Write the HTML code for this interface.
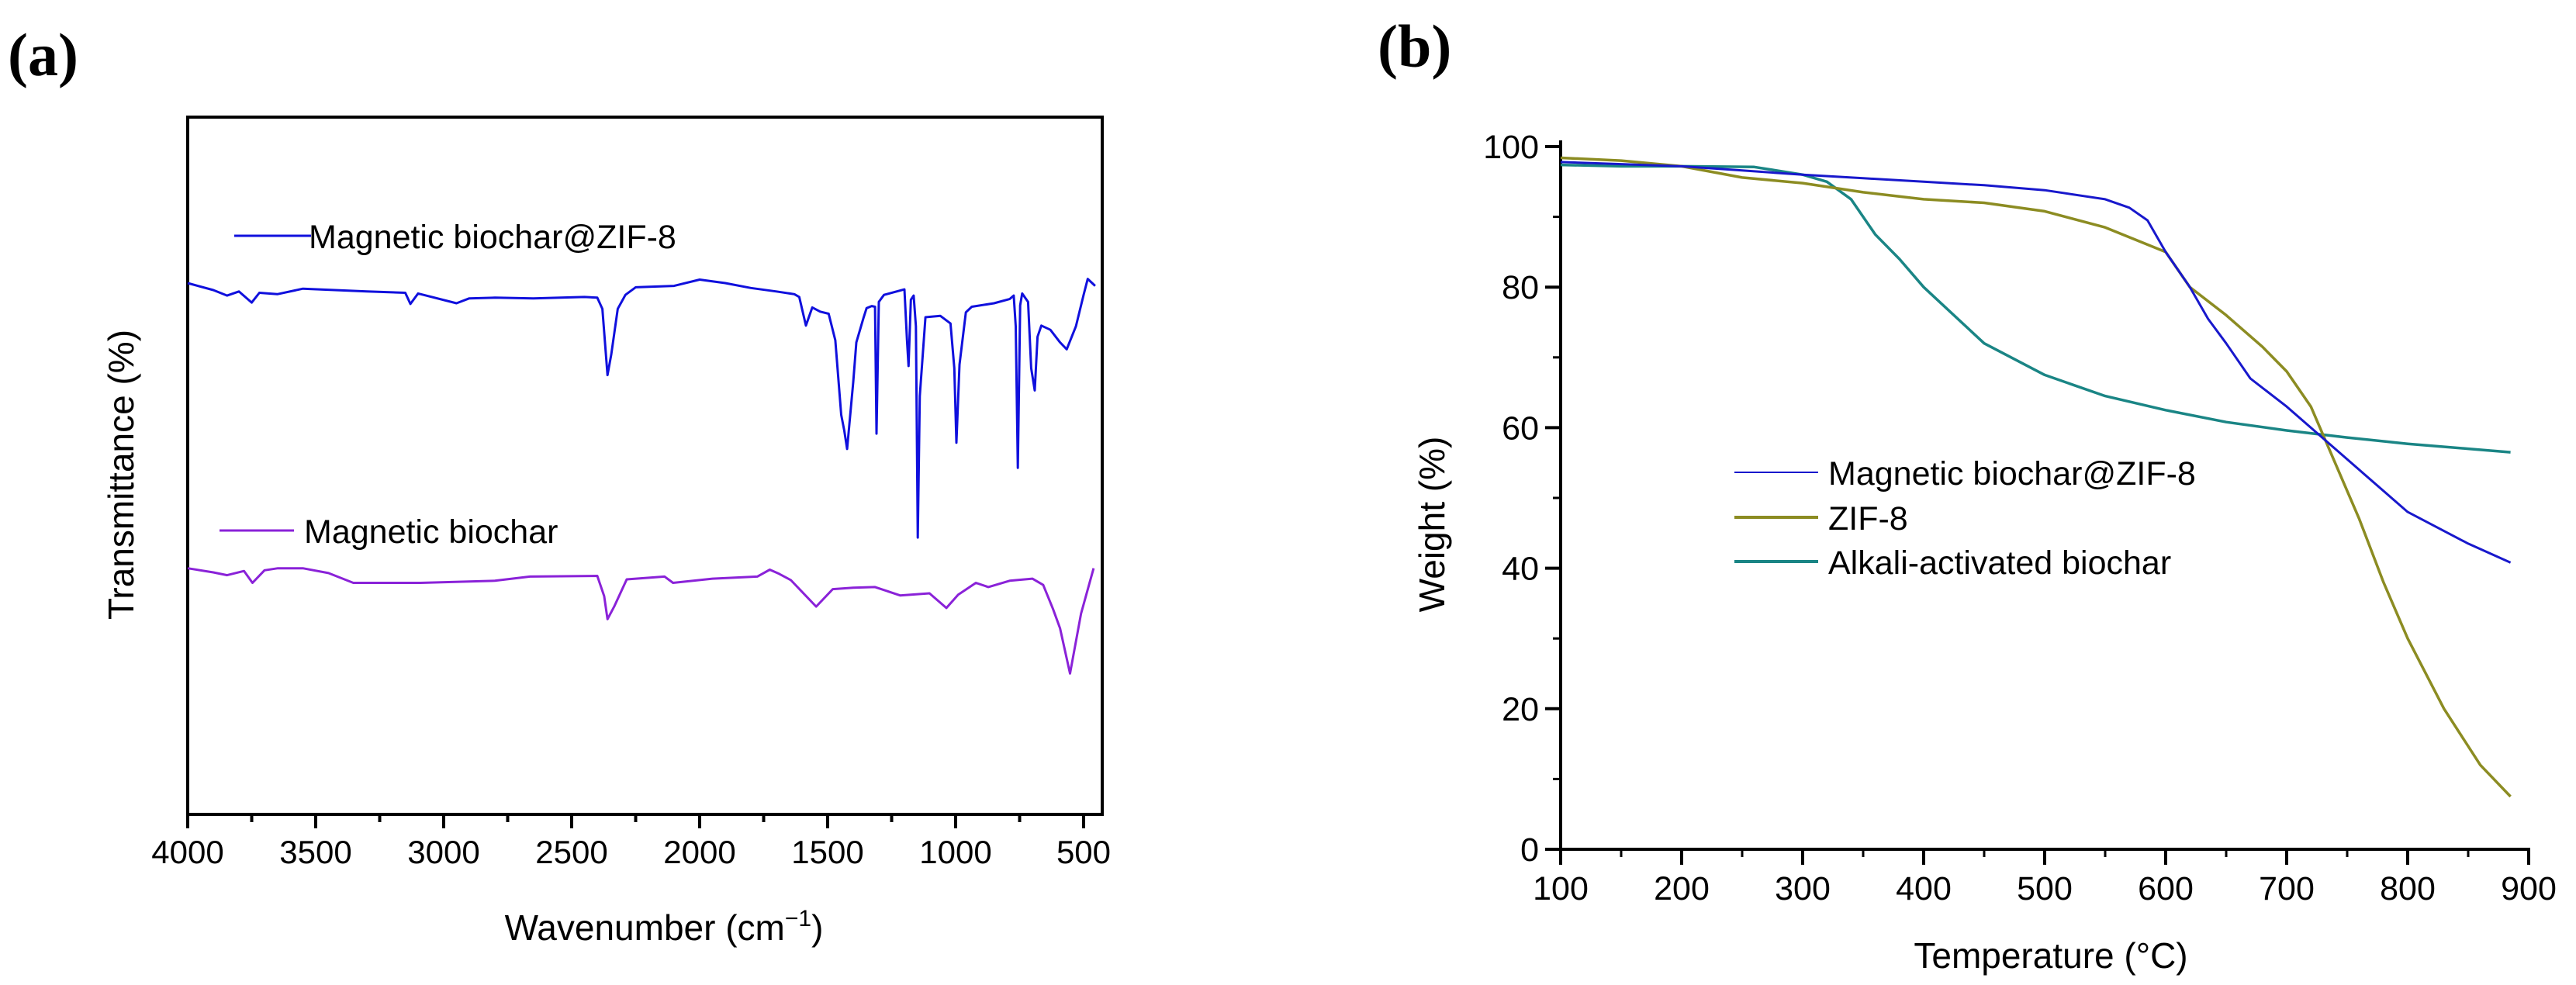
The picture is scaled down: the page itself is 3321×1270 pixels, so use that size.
<!DOCTYPE html>
<html><head><meta charset="utf-8"><style>
html,body{margin:0;padding:0;background:#fff;}
svg{display:block;font-family:"Liberation Sans",Arial,sans-serif;}
</style></head><body>
<svg id="fig" width="3321" height="1270" viewBox="0 0 3321 1270" xmlns="http://www.w3.org/2000/svg">
<g id="pa"></g>
<g id="pb"></g>
</svg>
<script>
// ---- Panel (a) FTIR data ----
const irTicks = [4000,3500,3000,2500,2000,1500,1000,500];
const blueWn = [4000,3900,3846,3800,3750,3720,3650,3550,3300,3150,3130,3100,2950,2900,2800,2650,2450,2400,2380,2360,2345,2320,2290,2250,2100,2000,1900,1800,1700,1630,1611,1585,1560,1529,1496,1470,1447,1435,1424,1400,1388,1360,1348,1328,1315,1309,1300,1280,1200,1190,1184,1175,1164,1155,1148,1140,1118,1060,1020,1005,997,985,960,937,850,789,773,765,757,748,740,717,705,691,680,665,630,592,566,530,500,484,455];
const blueT = [76.2,75.2,74.4,75,73.4,74.8,74.6,75.4,75,74.8,73.2,74.7,73.3,74,74.1,74,74.2,74.1,72.5,63,66,72.5,74.5,75.6,75.8,76.7,76.2,75.5,75,74.6,74.2,70.1,72.7,72.1,71.8,68,57.3,55,52.4,62,67.7,71.2,72.6,72.9,72.8,54.6,73.5,74.5,75.3,68,64.3,73.8,74.4,70,39.7,60,71.3,71.5,70.4,64,53.3,64.5,72,72.8,73.3,73.9,74.4,70,49.7,73,74.7,73.5,64,60.8,68.5,70.1,69.5,67.7,66.7,70,74.5,76.8,75.8];
const purpWn = [4000,3900,3846,3780,3747,3700,3648,3550,3450,3353,3090,2800,2663,2400,2373,2360,2334,2285,2137,2104,1950,1775,1726,1690,1644,1545,1480,1400,1315,1217,1102,1036,990,921,872,789,700,658,620,592,553,510,461];
const purpT = [35.3,34.7,34.3,34.9,33.2,35,35.3,35.3,34.6,33.2,33.2,33.5,34.1,34.2,31.3,28,29.8,33.7,34.1,33.2,33.8,34.1,35.1,34.5,33.6,29.8,32.3,32.5,32.6,31.4,31.7,29.6,31.5,33.2,32.6,33.5,33.8,32.9,29.5,26.7,20.2,28.8,35.3];
// ---- Panel (b) TGA data ----
const tgaXTicks = [100,200,300,400,500,600,700,800,900];
const tgaYTicks = [0,20,40,60,80,100];
const mbzT = [100,150,200,250,300,350,400,450,500,550,570,585,600,610,620,635,650,670,700,730,760,800,850,885];
const mbzW = [97.8,97.5,97.2,96.6,96,95.5,95,94.5,93.8,92.5,91.3,89.5,85,82.5,80,75.5,72,67,63,58.5,54,48,43.5,40.8];
const zifT = [100,150,200,250,300,350,400,450,500,550,600,620,650,680,700,720,735,760,780,800,830,860,885];
const zifW = [98.4,98,97.2,95.6,94.8,93.5,92.5,92,90.8,88.5,85,80,76,71.5,68,63,57,47,38,30,20,12,7.5];
const alkT = [100,150,200,260,300,320,340,360,380,400,450,500,550,600,650,700,750,800,850,885];
const alkW = [97.4,97.2,97.2,97.1,96,95,92.5,87.5,84,80,72,67.5,64.5,62.5,60.8,59.6,58.6,57.7,57,56.5];

const NS='http://www.w3.org/2000/svg';
function mk(parent,tag,attrs,text){const e=document.createElementNS(NS,tag);for(const k in attrs)e.setAttribute(k,attrs[k]);if(text!==undefined)e.textContent=text;parent.appendChild(e);return e;}

// ---------- Panel A ----------
const pa=document.getElementById('pa');
const aL=242,aR=1421,aT=151,aB=1050;
const ax=wn=>aL+(4000-wn)*0.33;
const ay=t=>aB-t*8.99;
let e;
e=mk(pa,'text',{x:10,y:97,'font-family':'"Liberation Serif",serif','font-weight':'bold','font-size':78});e.textContent='(a)';


e=mk(pa,'rect',{x:aL,y:aT,width:aR-aL,height:aB-aT,fill:'none',stroke:'#000','stroke-width':4});


for(let wn=4000;wn>=500;wn-=250){
  const major=wn%500===0;
  e=mk(pa,'line',{x1:ax(wn),x2:ax(wn),y1:aB,y2:aB+(major?18:10),stroke:'#000','stroke-width':4});
  
  
}
irTicks.forEach(v=>{
  e=mk(pa,'text',{x:ax(v),y:1113,'font-size':42,'text-anchor':'middle'},String(v));
  
  
});
e=mk(pa,'text',{x:856,y:1212,'font-size':46,'text-anchor':'middle'});
e.innerHTML='Wavenumber (cm<tspan dy="-18" font-size="30">−1</tspan><tspan dy="18">)</tspan>';


e=mk(pa,'text',{x:0,y:0,'font-size':46,'text-anchor':'middle',transform:'translate(172,612) rotate(-90)'},'Transmittance (%)');


function pathA(xs,ys){return xs.map((x,i)=>(i?'L':'M')+ax(x).toFixed(1)+','+ay(ys[i]).toFixed(1)).join(' ');}
e=mk(pa,'path',{d:pathA(blueWn,blueT),fill:'none',stroke:'#1010dd','stroke-width':3,'stroke-linejoin':'round'});


e=mk(pa,'path',{d:pathA(purpWn,purpT),fill:'none',stroke:'#8a22d8','stroke-width':3,'stroke-linejoin':'round'});


e=mk(pa,'line',{x1:302,x2:401,y1:304,y2:304,stroke:'#1010dd','stroke-width':3});


e=mk(pa,'text',{x:398,y:320,'font-size':43},'Magnetic biochar@ZIF-8');


e=mk(pa,'line',{x1:283,x2:379,y1:684,y2:684,stroke:'#8a22d8','stroke-width':3});


e=mk(pa,'text',{x:392,y:700,'font-size':43},'Magnetic biochar');



// ---------- Panel B ----------
const pb=document.getElementById('pb');
const bL=2012,bB=1095;
const bx=t=>bL+(t-100)*1.56;
const by=w=>bB-w*9.06;
e=mk(pb,'text',{x:1776,y:86,'font-family':'"Liberation Serif",serif','font-weight':'bold','font-size':78},'(b)');


e=mk(pb,'line',{x1:bL,x2:bL,y1:bB+18,y2:181,stroke:'#000','stroke-width':4});


e=mk(pb,'line',{x1:bL-18,x2:bx(900)+2,y1:bB,y2:bB,stroke:'#000','stroke-width':4});


for(let t=100;t<=900;t+=50){
  const major=t%100===0;
  e=mk(pb,'line',{x1:bx(t),x2:bx(t),y1:bB,y2:bB+(major?20:10),stroke:'#000','stroke-width':major?4:3});
  
  
}
for(let w=0;w<=100;w+=10){
  const major=w%20===0;
  e=mk(pb,'line',{x1:bL,x2:bL-(major?20:10),y1:by(w),y2:by(w),stroke:'#000','stroke-width':major?4:3});
  
  
}
tgaXTicks.forEach(v=>{
  e=mk(pb,'text',{x:bx(v),y:1160,'font-size':43,'text-anchor':'middle'},String(v));
  
  
});
tgaYTicks.forEach(v=>{
  e=mk(pb,'text',{x:bL-28,y:by(v)+15,'font-size':43,'text-anchor':'end'},String(v));
  
  
});
e=mk(pb,'text',{x:2644,y:1248,'font-size':46,'text-anchor':'middle'},'Temperature (°C)');


e=mk(pb,'text',{x:0,y:0,'font-size':46,'text-anchor':'middle',transform:'translate(1862,676) rotate(-90)'},'Weight (%)');


function pathB(xs,ys){return xs.map((x,i)=>(i?'L':'M')+bx(x).toFixed(1)+','+by(ys[i]).toFixed(1)).join(' ');}
e=mk(pb,'path',{d:pathB(alkT,alkW),fill:'none',stroke:'#1a8585','stroke-width':3.5,'stroke-linejoin':'round'});


e=mk(pb,'path',{d:pathB(zifT,zifW),fill:'none',stroke:'#8c8c22','stroke-width':3.5,'stroke-linejoin':'round'});


e=mk(pb,'path',{d:pathB(mbzT,mbzW),fill:'none',stroke:'#1818cc','stroke-width':3,'stroke-linejoin':'round'});


const leg=[['Magnetic biochar@ZIF-8','#1818cc',609,2],['ZIF-8','#8c8c22',667,4],['Alkali-activated biochar','#1a8585',724,4]];
leg.forEach(l=>{
  e=mk(pb,'line',{x1:2236,x2:2344,y1:l[2],y2:l[2],stroke:l[1],'stroke-width':l[3]});
  
  
  e=mk(pb,'text',{x:2357,y:l[2]+16,'font-size':43},l[0]);
  
  
});
</script>
</body></html>
